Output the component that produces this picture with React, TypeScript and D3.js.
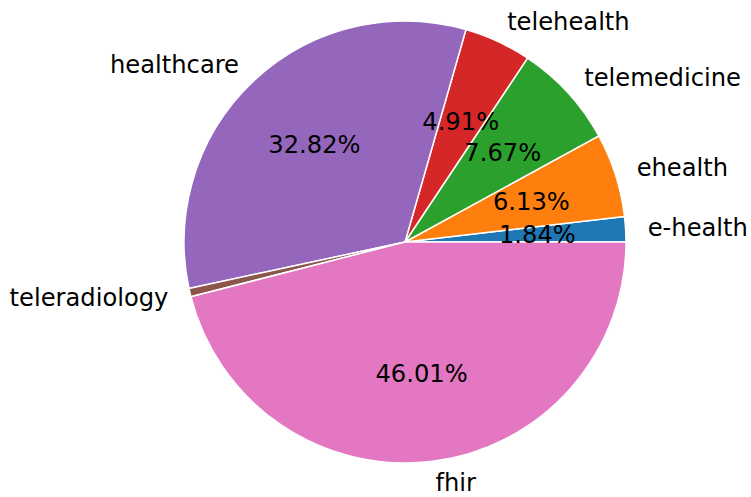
import React from 'react';
import * as d3 from 'd3';

const labels = ['e-health', 'ehealth', 'telemedicine', 'telehealth', 'healthcare', 'teleradiology', 'fhir'];
const counts = [6, 20, 25, 16, 107, 2, 150];
const colors = ['#1f77b4', '#ff7f0e', '#2ca02c', '#d62728', '#9467bd', '#8c564b', '#e377c2'];

export default function App() {
  const width = 751;
  const height = 497;
  const cx = 405;
  const cy = 242;
  const r = 221;
  const fontSize = 24.2;

  const total = d3.sum(counts);
  const data = labels.map((label, i) => ({ label, value: counts[i], color: colors[i] }));

  // matplotlib starts at 3 o'clock going counter-clockwise
  const pie = d3.pie<any>()
    .value(d => d.value)
    .sort(null)
    .startAngle(Math.PI / 2)
    .endAngle(Math.PI / 2 - 2 * Math.PI);

  const arcs = pie(data);
  const arc = d3.arc<any>().innerRadius(0).outerRadius(r);

  return (
    <svg width={width} height={height} style={{ position: 'absolute', left: 0, top: 0 }}
      fontFamily="'DejaVu Sans', sans-serif">
      <rect width={width} height={height} fill="#ffffff" />
      <g transform={`translate(${cx},${cy})`}>
        {arcs.map((a, i) => (
          <path key={i} d={arc(a) || ''} fill={a.data.color} stroke="#ffffff" strokeWidth={1.5} strokeLinejoin="round" />
        ))}
        {arcs.map((a, i) => {
          const mid = (a.startAngle + a.endAngle) / 2;
          const lx = Math.sin(mid) * r * 1.1;
          const ly = -Math.cos(mid) * r * 1.1;
          return (
            <text key={'l' + i} x={lx} y={ly} dy="0.34em" fontSize={fontSize} fill="#000"
              textAnchor={lx > 0 ? 'start' : 'end'}>{a.data.label}</text>
          );
        })}
        {arcs.map((a, i) => {
          const pct = (a.data.value / total) * 100;
          if (pct < 1) return null;
          const mid = (a.startAngle + a.endAngle) / 2;
          const px = Math.sin(mid) * r * 0.6;
          const py = -Math.cos(mid) * r * 0.6;
          return (
            <text key={'p' + i} x={px} y={py} dy="0.34em" fontSize={fontSize} fill="#000"
              textAnchor="middle">{pct.toFixed(2) + '%'}</text>
          );
        })}
      </g>
    </svg>
  );
}
